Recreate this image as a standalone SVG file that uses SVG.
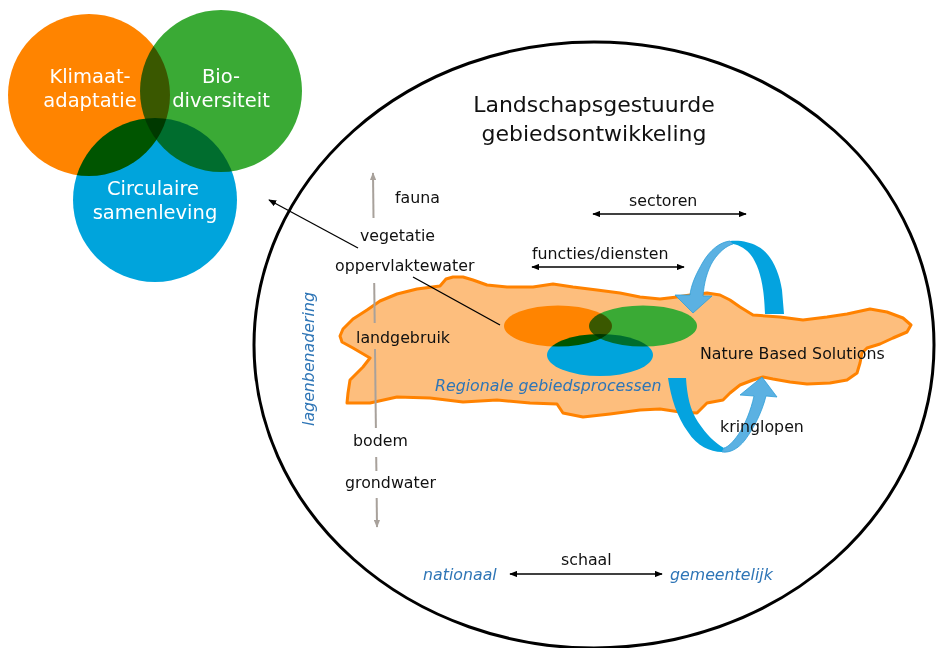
<svg xmlns="http://www.w3.org/2000/svg" width="941" height="648" viewBox="0 0 941 648">
  <style>
    .lbl { font-family: "DejaVu Sans", Verdana, sans-serif; font-size: 15.8px; fill: #111; }
    .blue { font-family: "DejaVu Sans", Verdana, sans-serif; font-size: 15.8px; fill: #2E75B6; font-style: italic; }
    .venn-txt { font-family: "DejaVu Sans", Verdana, sans-serif; font-size: 19.5px; fill: #fff; text-anchor: middle; }
    .title { font-family: "DejaVu Sans", Verdana, sans-serif; font-size: 22px; fill: #111; text-anchor: middle; }
    .iso { isolation: isolate; }
    .mul { mix-blend-mode: multiply; }
    .conn { stroke: #000; stroke-width: 1.3; fill: none; }
    .layer { stroke: #A8A19B; stroke-width: 2; fill: none; }
    .ring-dark { fill: #04A3DF; }
    .ring-light { fill: #5BB1E2; stroke: #2E9ED8; stroke-width: 0.8; }
  </style>
  <defs>
    <marker id="arr" viewBox="0 0 10 8" refX="9" refY="4" markerWidth="8" markerHeight="6.4" markerUnits="userSpaceOnUse" orient="auto-start-reverse">
      <path d="M0,0 L10,4 L0,8 z" fill="#000"/>
    </marker>
    <marker id="arrGrey" viewBox="0 0 10 8" refX="9" refY="4" markerWidth="8" markerHeight="6.4" markerUnits="userSpaceOnUse" orient="auto-start-reverse">
      <path d="M0,0 L10,4 L0,8 z" fill="#A8A19B"/>
    </marker>
  </defs>

  <rect width="941" height="648" fill="#fff"/>

  <!-- three themes -->
  <g id="venn-themes" class="iso">
    <circle class="mul" cx="89" cy="95" r="81" fill="#FF8400"/>
    <circle class="mul" cx="221" cy="91" r="81" fill="#3AAA35"/>
    <circle class="mul" cx="155" cy="200" r="82" fill="#00A4DC"/>
  </g>
  <g id="node-klimaat">
    <text class="venn-txt" x="90" y="83">Klimaat-</text>
    <text class="venn-txt" x="90" y="107">adaptatie</text>
  </g>
  <g id="node-bio">
    <text class="venn-txt" x="221" y="83">Bio-</text>
    <text class="venn-txt" x="221" y="107">diversiteit</text>
  </g>
  <g id="node-circulair">
    <text class="venn-txt" x="153" y="195">Circulaire</text>
    <text class="venn-txt" x="155" y="219">samenleving</text>
  </g>

  <!-- landscape frame -->
  <g id="node-frame">
    <ellipse cx="594" cy="345" rx="340" ry="303" fill="none" stroke="#000" stroke-width="3"/>
    <text class="title" x="594" y="112">Landschapsgestuurde</text>
    <text class="title" x="594" y="141">gebiedsontwikkeling</text>
  </g>

  <!-- region blob -->
  <g id="node-region">
    <path d="M340,336 L343,329 L353,319 L367,310 L380,301 L397,294 L417,289 L440,286 L446,279 L453,277 L463,277 L473,280 L487,285 L507,287 L533,287 L553,284 L573,287 L597,290 L620,293 L640,297 L660,299 L677,297 L690,295 L707,293 L720,295 L730,300 L740,307 L753,315 L780,317 L803,320 L827,317 L847,314 L870,309 L887,312 L903,318 L911,325 L907,332 L893,338 L880,344 L867,348 L862,353 L860,363 L857,373 L847,380 L830,383 L807,384 L790,382 L773,379 L763,377 L753,380 L740,385 L730,393 L723,400 L707,403 L697,413 L680,412 L660,409 L640,410 L610,414 L583,417 L563,413 L557,404 L530,403 L497,400 L463,402 L430,398 L397,397 L370,403 L347,403 L348,393 L350,380 L357,373 L363,367 L370,358 L353,348 L342,342 Z" fill="#FDBE7D" stroke="#FF8200" stroke-width="3" stroke-linejoin="round"/>
    <g class="iso">
      <ellipse class="mul" cx="558" cy="326" rx="54" ry="20.5" fill="#FF8400"/>
      <ellipse class="mul" cx="643" cy="326" rx="54" ry="20.5" fill="#3AAA35"/>
      <ellipse class="mul" cx="600" cy="355" rx="53" ry="21" fill="#00A4DC"/>
    </g>
    <text class="blue" x="435" y="391">Regionale gebiedsprocessen</text>
  </g>

  <!-- cycle arrows -->
  <g id="node-cycle-top">
    <path class="ring-dark" d="M784,314 L782,290 C779,270 770,252 757,246 C750,242 740,240 730,241 L733,244 C740,245 748,250 753,258 C760,270 764,285 765,314 Z"/>
    <path class="ring-light" d="M730,241 C720,242 710,250 703,262 C696,274 691,285 690,295 L675,295 L693,313 L712,296 L703,296 C704,283 707,271 713,261 C719,252 726,246 733,244 Z"/>
  </g>
  <g id="node-cycle-bottom">
    <path class="ring-dark" d="M668,378 L686,378 C687,395 690,410 698,422 C706,434 715,443 724,448 L722,452 C710,452 697,446 688,432 C677,417 671,398 668,378 Z"/>
    <path class="ring-light" d="M722,452 C730,453 738,449 745,440 C754,428 762,412 766,396 L777,397 L762,377 L740,395 L754,396 C751,410 745,425 738,435 C733,442 728,447 724,448 Z"/>
  </g>

  <!-- connectors -->
  <g id="connectors">
    <line class="conn" x1="358" y1="248" x2="269" y2="200" marker-end="url(#arr)"/>
    <line class="conn" x1="413" y1="277" x2="500" y2="325"/>
    <line class="conn" x1="593" y1="214" x2="746" y2="214" marker-start="url(#arr)" marker-end="url(#arr)"/>
    <line class="conn" x1="532" y1="267" x2="684" y2="267" marker-start="url(#arr)" marker-end="url(#arr)"/>
    <line class="conn" x1="510" y1="574" x2="662" y2="574" marker-start="url(#arr)" marker-end="url(#arr)"/>
    <line class="layer" x1="373.5" y1="218" x2="373" y2="173" marker-end="url(#arrGrey)"/>
    <line class="layer" x1="374.2" y1="283" x2="374.7" y2="323"/>
    <line class="layer" x1="375" y1="349" x2="375.9" y2="428"/>
    <line class="layer" x1="376.2" y1="457" x2="376.4" y2="471"/>
    <line class="layer" x1="376.7" y1="498" x2="377" y2="527" marker-end="url(#arrGrey)"/>
  </g>

  <!-- labels -->
  <g id="labels">
    <text class="lbl" x="395" y="203">fauna</text>
    <text class="lbl" x="360" y="241">vegetatie</text>
    <text class="lbl" x="335" y="271">oppervlaktewater</text>
    <text class="lbl" x="356" y="343">landgebruik</text>
    <text class="lbl" x="353" y="446">bodem</text>
    <text class="lbl" x="345" y="488">grondwater</text>
    <text class="lbl" x="629" y="206">sectoren</text>
    <text class="lbl" x="532" y="259">functies/diensten</text>
    <text class="lbl" x="700" y="359">Nature Based Solutions</text>
    <text class="lbl" x="720" y="432">kringlopen</text>
    <text class="lbl" x="561" y="565">schaal</text>
    <text class="blue" x="423" y="580">nationaal</text>
    <text class="blue" x="670" y="580">gemeentelijk</text>
    <text class="blue" transform="translate(314,359) rotate(-90)" text-anchor="middle">lagenbenadering</text>
  </g>
</svg>
